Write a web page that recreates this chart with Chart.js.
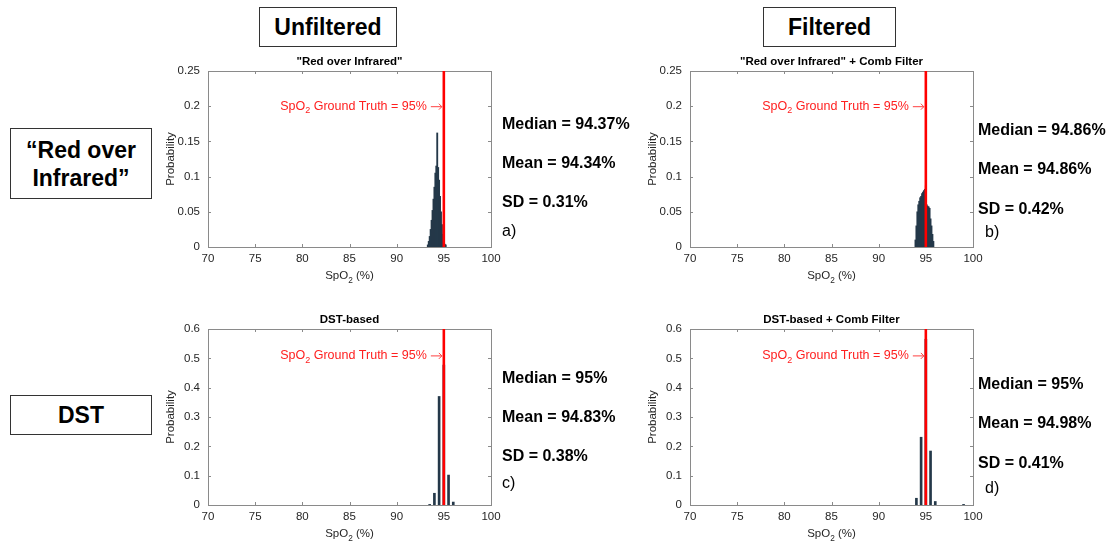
<!DOCTYPE html>
<html>
<head>
<meta charset="utf-8">
<script src="https://cdn.jsdelivr.net/npm/chart.js@4"></script>
<style>
  html,body{margin:0;padding:0;background:#fff;}
  body{width:1116px;height:544px;position:relative;overflow:hidden;font-family:"Liberation Sans",Arial,sans-serif;}
  canvas{position:absolute;}
  .box{position:absolute;border:1px solid #333;box-sizing:border-box;display:flex;align-items:center;justify-content:center;text-align:center;font-weight:bold;color:#000;}
  .stat{position:absolute;font-weight:bold;font-size:16px;line-height:18px;color:#000;white-space:nowrap;}
  .lbl{position:absolute;font-size:16px;line-height:18px;color:#000;}
</style>
</head>
<body>
<canvas id="cA" width="345" height="235" style="left:160px;top:52px"></canvas>
<canvas id="cB" width="345" height="235" style="left:642px;top:52px"></canvas>
<canvas id="cC" width="345" height="235" style="left:160px;top:310px"></canvas>
<canvas id="cD" width="345" height="235" style="left:642px;top:310px"></canvas>

<div class="box" style="left:259px;top:7px;width:138px;height:40px;font-size:23px;">Unfiltered</div>
<div class="box" style="left:763px;top:7px;width:133px;height:40px;font-size:23px;">Filtered</div>
<div class="box" style="left:10px;top:128px;width:142px;height:71px;font-size:23px;line-height:28px;">“Red over<br>Infrared”</div>
<div class="box" style="left:10px;top:395px;width:142px;height:40px;font-size:23px;">DST</div>

<div class="stat" style="left:502px;top:115px">Median = 94.37%</div>
<div class="stat" style="left:502px;top:154px">Mean = 94.34%</div>
<div class="stat" style="left:502px;top:193px">SD = 0.31%</div>
<div class="lbl" style="left:502px;top:222px">a)</div>

<div class="stat" style="left:978px;top:121px">Median = 94.86%</div>
<div class="stat" style="left:978px;top:160px">Mean = 94.86%</div>
<div class="stat" style="left:978px;top:200px">SD = 0.42%</div>
<div class="lbl" style="left:985px;top:223px">b)</div>

<div class="stat" style="left:502px;top:369px">Median = 95%</div>
<div class="stat" style="left:502px;top:408px">Mean = 94.83%</div>
<div class="stat" style="left:502px;top:447px">SD = 0.38%</div>
<div class="lbl" style="left:502px;top:474px">c)</div>

<div class="stat" style="left:978px;top:375px">Median = 95%</div>
<div class="stat" style="left:978px;top:414px">Mean = 94.98%</div>
<div class="stat" style="left:978px;top:454px">SD = 0.41%</div>
<div class="lbl" style="left:985px;top:479px">d)</div>

<script>
// ---- data ----
const xTicks = [70, 75, 80, 85, 90, 95, 100];
const yTicksTop = [0, 0.05, 0.1, 0.15, 0.2, 0.25];
const yTicksBottom = [0, 0.1, 0.2, 0.3, 0.4, 0.5, 0.6];
const groundTruth = 95;

const xA = [93.3,93.4,93.5,93.6,93.7,93.8,93.9,94.0,94.1,94.2,94.3,94.4,94.5,94.6,94.7,94.8,94.9,95.0,95.1,95.2];
const pA = [0.003,0.008,0.015,0.025,0.038,0.052,0.068,0.085,0.105,0.115,0.162,0.113,0.095,0.072,0.050,0.032,0.018,0.008,0.004,0.003];

const xB = [93.9,94.0,94.1,94.2,94.3,94.4,94.5,94.6,94.7,94.8,94.9,95.0,95.1,95.2,95.3,95.4,95.5,95.6,95.7,95.8];
const pB = [0.010,0.030,0.050,0.060,0.065,0.070,0.072,0.076,0.078,0.080,0.082,0.087,0.060,0.058,0.057,0.055,0.040,0.030,0.018,0.008];

const xC = [93.5,94.0,94.5,95.0,95.5,96.0];
const pC = [0.002,0.040,0.370,0.477,0.102,0.010];

const xD = [94.0,94.5,95.0,95.5,96.0,99.0];
const pD = [0.023,0.231,0.565,0.184,0.012,0.002];

const titles = ['"Red over Infrared"', '"Red over Infrared" + Comb Filter', 'DST-based', 'DST-based + Comb Filter'];

// ---- drawing ----
const FONT = '"Liberation Sans", Arial, sans-serif';
const BAR = '#243849';
const AXIS = '#8a8a8a';
const TXT = '#262626';

function drawSubText(ctx, parts, x, y, size, align) {
  let total = 0;
  const widths = parts.map(p => {
    ctx.font = (p.sub ? (size * 0.72) : size) + 'px ' + FONT;
    const w = ctx.measureText(p.t).width;
    total += w; return w;
  });
  let cx = align === 'right' ? x - total : (align === 'center' ? x - total / 2 : x);
  parts.forEach((p, i) => {
    ctx.font = (p.sub ? (size * 0.72) : size) + 'px ' + FONT;
    ctx.textAlign = 'left';
    ctx.textBaseline = 'middle';
    ctx.fillText(p.t, cx, p.sub ? y + size * 0.38 : y);
    cx += widths[i];
  });
}

const figPlugin = {
  id: 'fig',
  afterDatasetsDraw(chart, args, opts) {
    const {ctx, chartArea: a, scales: {x, y}} = chart;
    ctx.save();
    // box
    ctx.strokeStyle = AXIS;
    ctx.lineWidth = 1;
    ctx.strokeRect(Math.round(a.left) + 0.5, Math.round(a.top) + 0.5, Math.round(a.right - a.left), Math.round(a.bottom - a.top));
    // inward ticks
    ctx.beginPath();
    x.ticks.forEach(t => {
      const px = Math.round(x.getPixelForValue(t.value)) + 0.5;
      ctx.moveTo(px, a.bottom); ctx.lineTo(px, a.bottom - 3);
      ctx.moveTo(px, a.top); ctx.lineTo(px, a.top + 3);
    });
    y.ticks.forEach(t => {
      const py = Math.round(y.getPixelForValue(t.value)) + 0.5;
      ctx.moveTo(a.left, py); ctx.lineTo(a.left + 3, py);
      ctx.moveTo(a.right, py); ctx.lineTo(a.right - 3, py);
    });
    ctx.stroke();
    // ground truth line
    const gx = x.getPixelForValue(groundTruth);
    ctx.strokeStyle = '#ff0000';
    ctx.lineWidth = 2.6;
    ctx.beginPath();
    ctx.moveTo(gx, a.top); ctx.lineTo(gx, a.bottom);
    ctx.stroke();
    // annotation text + arrow
    const ay = y.getPixelForValue(opts.annY);
    ctx.fillStyle = '#ff2020';
    drawSubText(ctx, [{t: 'SpO'}, {t: '2', sub: true}, {t: ' Ground Truth = 95%'}], gx - 17, ay, 12.5, 'right');
    ctx.strokeStyle = '#ff4040';
    ctx.lineWidth = 1;
    ctx.beginPath();
    ctx.moveTo(gx - 13, ay + 0.5); ctx.lineTo(gx - 2, ay + 0.5);
    ctx.moveTo(gx - 5, ay - 2.5); ctx.lineTo(gx - 2, ay + 0.5); ctx.lineTo(gx - 5, ay + 3.5);
    ctx.stroke();
    // title
    ctx.fillStyle = '#000';
    ctx.font = 'bold 11.5px ' + FONT;
    ctx.textAlign = 'center';
    ctx.textBaseline = 'middle';
    ctx.fillText(opts.title, (a.left + a.right) / 2, a.top - 9);
    // x title
    ctx.fillStyle = TXT;
    drawSubText(ctx, [{t: 'SpO'}, {t: '2', sub: true}, {t: ' (%)'}], (a.left + a.right) / 2, a.bottom + 29, 11.5, 'center');
    ctx.restore();
  }
};

function makeChart(id, xs, ps, yMax, yTicks, title, annY, barW) {
  new Chart(document.getElementById(id), {
    type: 'bar',
    data: {
      datasets: [{
        data: xs.map((v, i) => ({x: v, y: ps[i]})),
        backgroundColor: BAR,
        borderWidth: 0,
        barThickness: barW
      }]
    },
    options: {
      responsive: false,
      animation: false,
      devicePixelRatio: 1,
      layout: {padding: {top: 19, right: 14, left: 0, bottom: 0}},
      plugins: {legend: {display: false}, tooltip: {enabled: false}, fig: {title: title, annY: annY}},
      scales: {
        x: {
          type: 'linear', min: 70, max: 100, offset: false,
          afterBuildTicks: s => { s.ticks = xTicks.map(v => ({value: v})); },
          afterFit: s => { s.height = 40; s.paddingLeft = 0; s.paddingRight = 0; },
          grid: {display: false, drawTicks: false},
          border: {display: false},
          ticks: {padding: 5, color: TXT, font: {family: FONT, size: 11.5}, maxRotation: 0, autoSkip: false}
        },
        y: {
          min: 0, max: yMax,
          afterBuildTicks: s => { s.ticks = yTicks.map(v => ({value: v})); },
          afterFit: s => { s.width = 48; s.paddingTop = 0; s.paddingBottom = 0; },
          grid: {display: false, drawTicks: false},
          border: {display: false},
          title: {display: true, text: 'Probability', color: TXT, font: {family: FONT, size: 11.5}, padding: {top: 4, bottom: 2}},
          ticks: {padding: 8, color: TXT, font: {family: FONT, size: 11.5}, autoSkip: false,
                  callback: v => String(+Number(v).toFixed(2))}
        }
      }
    },
    plugins: [figPlugin]
  });
}

makeChart('cA', xA, pA, 0.25, yTicksTop, titles[0], 0.2, 1.2);
makeChart('cB', xB, pB, 0.25, yTicksTop, titles[1], 0.2, 1.2);
makeChart('cC', xC, pC, 0.6, yTicksBottom, titles[2], 0.51, 2);
makeChart('cD', xD, pD, 0.6, yTicksBottom, titles[3], 0.51, 2);
</script>
</body>
</html>
